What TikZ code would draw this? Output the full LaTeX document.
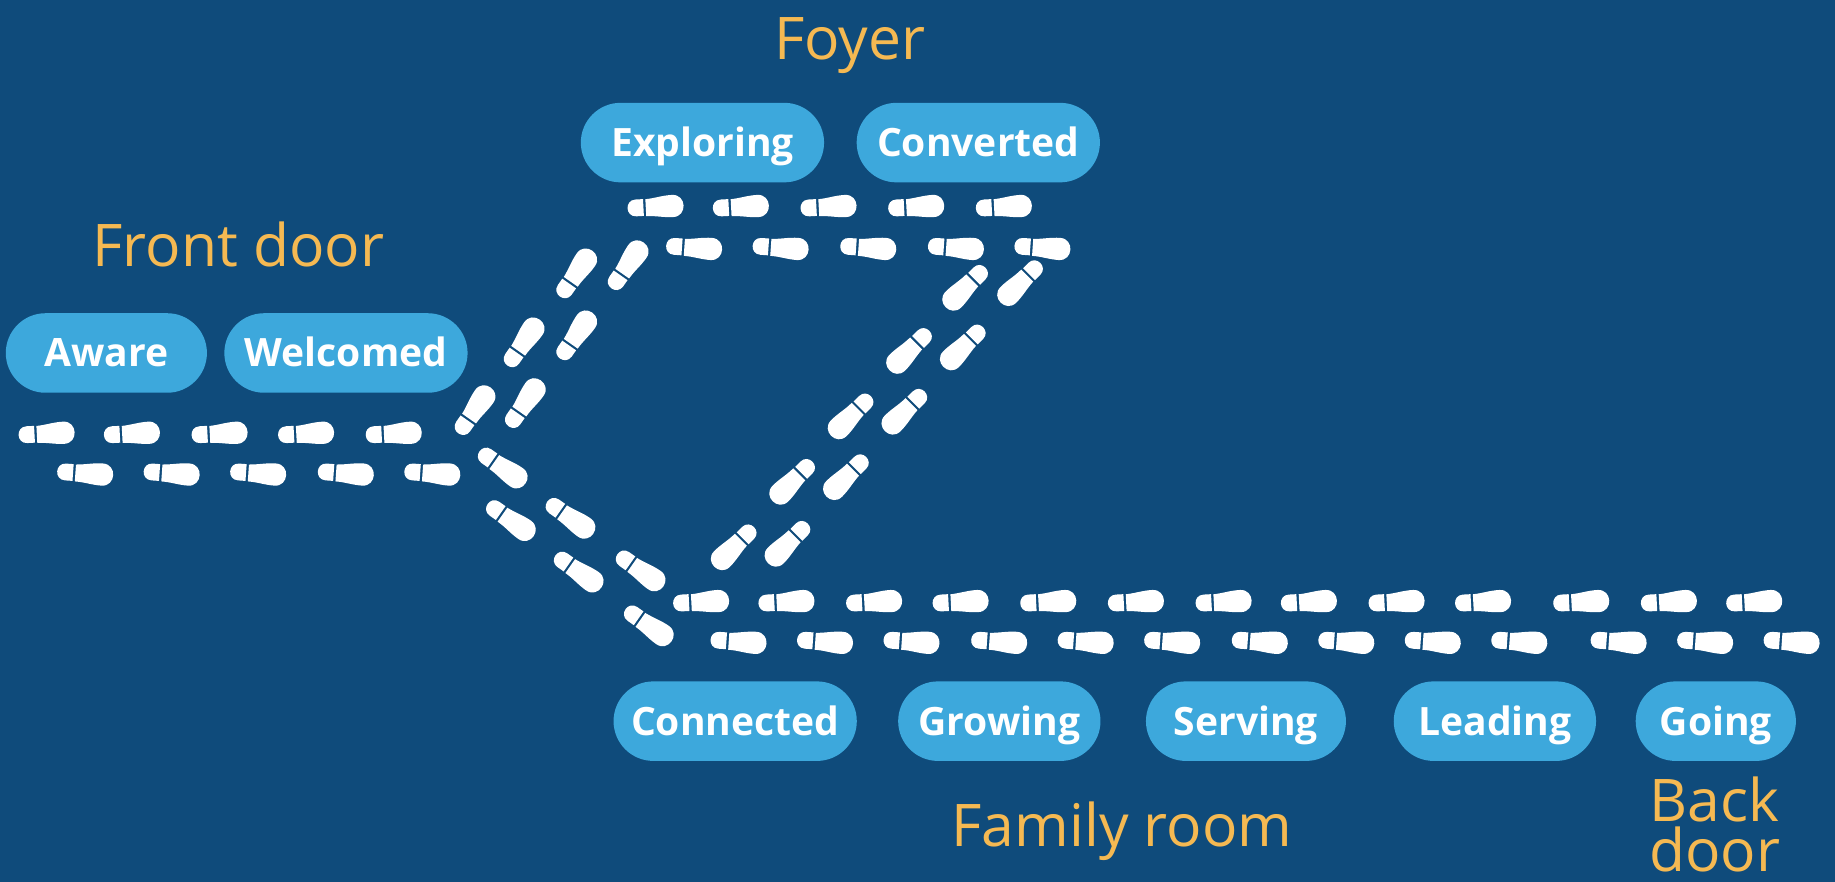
\documentclass[tikz,border=0pt]{standalone}
\usepackage{fontspec}
\usepackage{tikz}

\newfontfamily\pillfont{Open Sans}
\newfontfamily\roomfont{Open Sans}

\definecolor{bgblue}{HTML}{0F4B7B}
\definecolor{pillblue}{HTML}{3DA8DC}
\definecolor{roomorange}{HTML}{F5B952}

\tikzset{
  stage/.style={rectangle, rounded corners=0.34cm, fill=pillblue, text=white,
    minimum height=0.68cm, minimum width=1.72cm, inner sep=0pt,
    text height=6.8pt, text depth=0pt,
    font=\pillfont\bfseries\fontsize{9.5}{11}\selectfont},
  room/.style={text=roomorange, anchor=base, inner sep=0pt, align=center,
    font=\roomfont\fontsize{14.3}{12.2}\selectfont},
  foot/.pic={
    \fill[white] (-10.5,-7.2) -- (-10.5,7.2) -- (-17,7.2) .. controls (-26.5,7.2) and (-26.5,-7.2) .. (-17,-7.2) -- cycle
      (-8.5,-7) .. controls (0,-7.5) and (6,-9.5) .. (14.5,-9.5) .. controls (27,-9.5) and (27,9.5) .. (14.5,9.5)
      .. controls (6,9.5) and (0,7.5) .. (-8.5,7.5) -- cycle;
  }
}

\begin{document}
\begin{tikzpicture}[x=0.01cm, y=-0.01cm]

  \useasboundingbox (0,0) rectangle (1570,754.5);
  \fill[bgblue] (0,0) rectangle (1570,754.5);

  % Front door
  \node[room] (front) at (204,228) {Front door};
  \node[stage] (aware) at (91,302) {Aware};
  \node[stage, minimum width=2.08cm] (welcomed) at (296,302) {Welcomed};

  % Foyer
  \node[room] (foyer) at (727,51) {Foyer};
  \node[stage, minimum width=2.08cm] (exploring) at (601,122) {Exploring};
  \node[stage, minimum width=2.08cm] (converted) at (837,122) {Converted};

  % Family room
  \node[stage, minimum width=2.08cm] (connected) at (629,617) {Connected};
  \node[stage, minimum width=1.73cm] (growing) at (855,617) {Growing};
  \node[stage, minimum width=1.71cm] (serving) at (1066,617) {Serving};
  \node[stage, minimum width=1.73cm] (leading) at (1279,617) {Leading};
  \node[stage, minimum width=1.37cm] (going) at (1468,617) {Going};
  \node[room] (family) at (960,724) {Family room};
  \node[room] (back) at (1467,746) {Back\\door};

  % Footsteps through the front door
  \foreach \x in {40,113,188,262,337} \pic[rotate=3] at (\x,371) {foot};
  \foreach \x in {73,147,221,296,370} \pic[rotate=-4] at (\x,405) {foot};

  % Up into the foyer
  \foreach \x/\y in {406/351,449/345,448/293,493/287,493/234,537/227} \pic[rotate=55] at (\x,\y) {foot};
  \foreach \x in {561,634,709,784,859} \pic[rotate=3] at (\x,177) {foot};
  \foreach \x in {594,668,743,818,892} \pic[rotate=-4] at (\x,212) {foot};

  % Back down from the foyer
  \foreach \x/\y in {826/246,873/242,778/300,824/297,728/356,774/352,678/412,724/408,628/468,674/465} \pic[rotate=225] at (\x,\y) {foot};

  % Straight on to the family room
  \foreach \x/\y in {430/400,437/445,488/443,495/489,548/488,555/535} \pic[rotate=-35] at (\x,\y) {foot};
  \foreach \x in {600,673,748,822,897,972,1047,1120,1195,1269,1353,1428,1501} \pic[rotate=3] at (\x,515) {foot};
  \foreach \x in {632,706,780,855,929,1003,1078,1152,1226,1300,1385,1459,1533} \pic[rotate=-4] at (\x,549) {foot};

\end{tikzpicture}
\end{document}
